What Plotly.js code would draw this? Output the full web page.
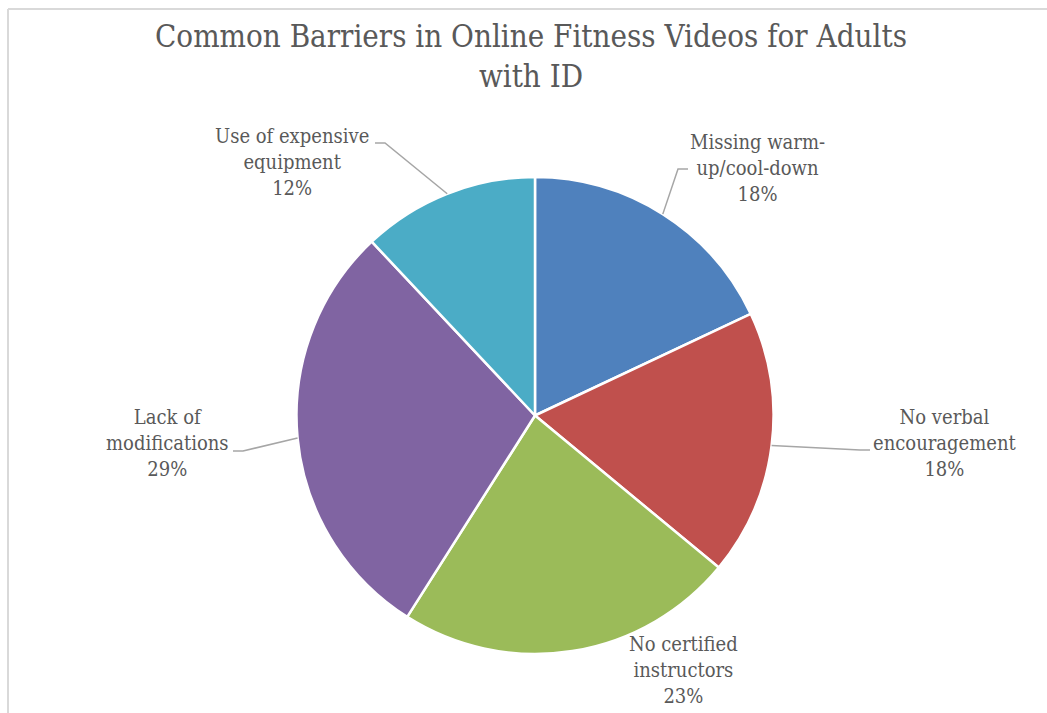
<!DOCTYPE html>
<html>
<head>
<meta charset="utf-8">
<script src="https://cdn.plot.ly/plotly-3.0.1.min.js"></script>
<style>html,body{margin:0;padding:0;background:#fff;}#chart{width:1047px;height:713px;}</style>
</head>
<body>
<div id="chart"></div>
<script>
// ---- data ----
var categories = ["Missing warm-up/cool-down", "No verbal encouragement", "No certified instructors", "Lack of modifications", "Use of expensive equipment"];
var labelTexts = ["Missing warm-<br>up/cool-down", "No verbal<br>encouragement", "No certified<br>instructors", "Lack of<br>modifications", "Use of expensive<br>equipment"];
var percents = [18, 18, 23, 29, 12];
var colors = ["#4F81BD", "#C0504D", "#9BBB59", "#8064A2", "#4BACC6"];
var titleText = "Common Barriers in Online Fitness Videos for Adults<br>with ID";

// ---- layout geometry (pixels) ----
var W = 1047, H = 713;
var cx = 535, cy = 415.5, R = 238.5;
var FONT = "'DejaVu Serif Condensed', 'DejaVu Serif', serif";
var TXT = "#595959";
function px(x){ return x / W; }
function py(y){ return 1 - y / H; }

// label block centers and leader-line elbows (pixels)
var labelPos = [[757, 168], [945, 443], [683, 670], [167, 443], [292, 162]];
var elbows = [[[688,169],[678,169]], [[870,450],[860,450]], null, [[233,451],[243,451]], [[375,143],[385,143]]];

var total = percents.reduce(function(a,b){return a+b;}, 0);
var shapes = [];
var annotations = [];
var cum = 0;
for (var i = 0; i < percents.length; i++) {
  var mid = (cum + percents[i] / 2) / total * 2 * Math.PI;
  cum += percents[i];
  var ex = cx + R * Math.sin(mid), ey = cy - R * Math.cos(mid);
  annotations.push({
    xref: 'paper', yref: 'paper', x: px(labelPos[i][0]), y: py(labelPos[i][1]),
    xanchor: 'center', yanchor: 'middle', showarrow: false, align: 'center',
    text: labelTexts[i] + '<br>' + percents[i] + '%',
    font: {family: FONT, size: 20, color: TXT}
  });
  if (elbows[i]) {
    var p = elbows[i];
    var path = 'M' + px(p[0][0]) + ',' + py(p[0][1]) + ' L' + px(p[1][0]) + ',' + py(p[1][1]) + ' L' + px(ex) + ',' + py(ey);
    shapes.push({type: 'path', xref: 'paper', yref: 'paper', path: path, line: {color: '#A6A6A6', width: 1.5}});
  }
}
// title as annotation
annotations.push({
  xref: 'paper', yref: 'paper', x: px(531), y: py(56),
  xanchor: 'center', yanchor: 'middle', showarrow: false, align: 'center',
  text: titleText,
  font: {family: FONT, size: 31, color: TXT}
});
// chart frame
shapes.push({type: 'line', xref: 'paper', yref: 'paper', x0: px(8), y0: py(9), x1: 1, y1: py(9), line: {color: '#D9D9D9', width: 2}});
shapes.push({type: 'line', xref: 'paper', yref: 'paper', x0: px(8), y0: py(9), x1: px(8), y1: 0, line: {color: '#D9D9D9', width: 2}});

var trace = {
  type: 'pie',
  labels: categories,
  values: percents,
  sort: false,
  direction: 'clockwise',
  rotation: 0,
  marker: {colors: colors, line: {color: '#FFFFFF', width: 2.5}},
  textinfo: 'none',
  hoverinfo: 'label+percent',
  showlegend: false,
  domain: {x: [px(cx - R), px(cx + R)], y: [py(cy + R), py(cy - R)]}
};

var layout = {
  width: W, height: H,
  margin: {l: 0, r: 0, t: 0, b: 0},
  paper_bgcolor: '#FFFFFF',
  showlegend: false,
  annotations: annotations,
  shapes: shapes
};

Plotly.newPlot('chart', [trace], layout, {displayModeBar: false, staticPlot: true});
</script>
</body>
</html>
